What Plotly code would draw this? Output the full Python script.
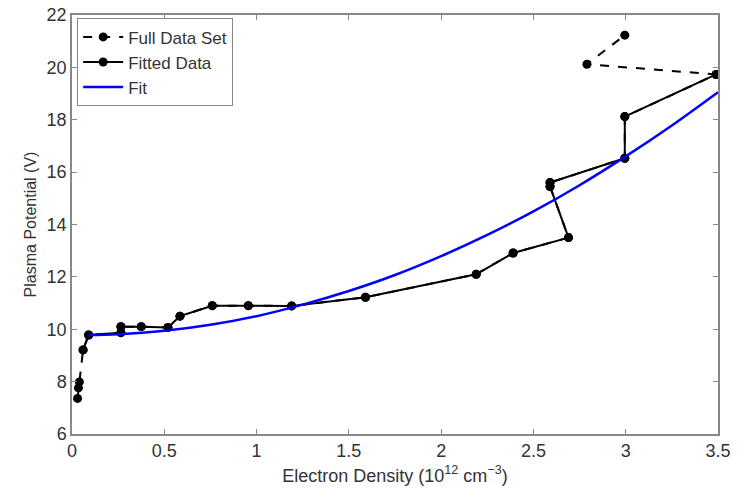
import plotly.graph_objects as go

# Full data set (acquisition order)
full_x = [0.03, 0.035, 0.04, 0.06, 0.09, 0.265, 0.265, 0.375, 0.52, 0.585, 0.76, 0.955,
          1.19, 1.59, 2.19, 2.39, 2.69, 2.59, 2.59, 2.995, 2.995, 3.49, 2.79, 2.995]
full_y = [7.36, 7.76, 7.99, 9.21, 9.78, 9.87, 10.1, 10.1, 10.07, 10.5, 10.9, 10.9,
          10.89, 11.22, 12.1, 12.91, 13.5, 15.45, 15.6, 16.53, 18.12, 19.73, 20.12, 21.23]

# Fitted subset
fit_data_x = [0.06, 0.09, 0.265, 0.265, 0.375, 0.52, 0.585, 0.76, 0.955,
              1.19, 1.59, 2.19, 2.39, 2.69, 2.59, 2.59, 2.995, 2.995, 3.49]
fit_data_y = [9.21, 9.78, 9.87, 10.1, 10.1, 10.07, 10.5, 10.9, 10.9,
              10.89, 11.22, 12.1, 12.91, 13.5, 15.45, 15.6, 16.53, 18.12, 19.73]

# Fit curve
curve_x = [0.09, 0.25, 0.5, 0.75, 1.0, 1.25, 1.5, 1.75, 2.0, 2.25, 2.5, 2.75, 3.0, 3.25, 3.5]
curve_y = [9.78, 9.81, 9.94, 10.17, 10.5, 10.94, 11.46, 12.07, 12.79, 13.6, 14.5, 15.5, 16.6, 17.78, 19.05]

x_ticks = [0, 0.5, 1, 1.5, 2, 2.5, 3, 3.5]
x_tick_labels = ["0", "0.5", "1", "1.5", "2", "2.5", "3", "3.5"]
y_ticks = [6, 8, 10, 12, 14, 16, 18, 20, 22]

fig = go.Figure()
fig.add_trace(go.Scatter(x=full_x, y=full_y, mode="lines+markers", name="Full Data Set",
                         line=dict(color="black", width=2, dash="dash"),
                         marker=dict(color="black", size=9)))
fig.add_trace(go.Scatter(x=fit_data_x, y=fit_data_y, mode="lines+markers", name="Fitted Data",
                         line=dict(color="black", width=2),
                         marker=dict(color="black", size=9)))
fig.add_trace(go.Scatter(x=curve_x, y=curve_y, mode="lines", name="Fit",
                         line=dict(color="#0000ff", width=2.5, shape="spline")))

FAM = "Liberation Sans, Arial, sans-serif"
font = dict(family=FAM, size=18, color="#333333")
axis_common = dict(showgrid=False, zeroline=False, showline=True, linecolor="#888888",
                   linewidth=1.5, mirror="ticks", ticks="inside", ticklen=5,
                   tickcolor="#888888", tickfont=font, automargin=False)

fig.update_layout(
    width=738, height=489,
    margin=dict(l=72, r=20, t=15, b=55),
    paper_bgcolor="white", plot_bgcolor="white",
    font=font,
    showlegend=True,
    legend=dict(x=0.008, y=0.992, xanchor="left", yanchor="top",
                bordercolor="#888888", borderwidth=1, bgcolor="white",
                font=dict(family=FAM, size=17, color="#333333"),
                tracegroupgap=0, itemwidth=40),
    xaxis=dict(range=[0, 3.5], tickvals=x_ticks, ticktext=x_tick_labels,
               title=dict(text="Electron Density (10<sup>12</sup> cm<sup>−3</sup>)", standoff=9,
                          font=dict(family=FAM, size=18, color="#333333")), **axis_common),
    yaxis=dict(range=[6, 22], tickvals=y_ticks,
               title=dict(text="Plasma Potential (V)", standoff=6,
                          font=dict(family=FAM, size=16, color="#333333")), **axis_common),
)

fig.write_html("out.html")
